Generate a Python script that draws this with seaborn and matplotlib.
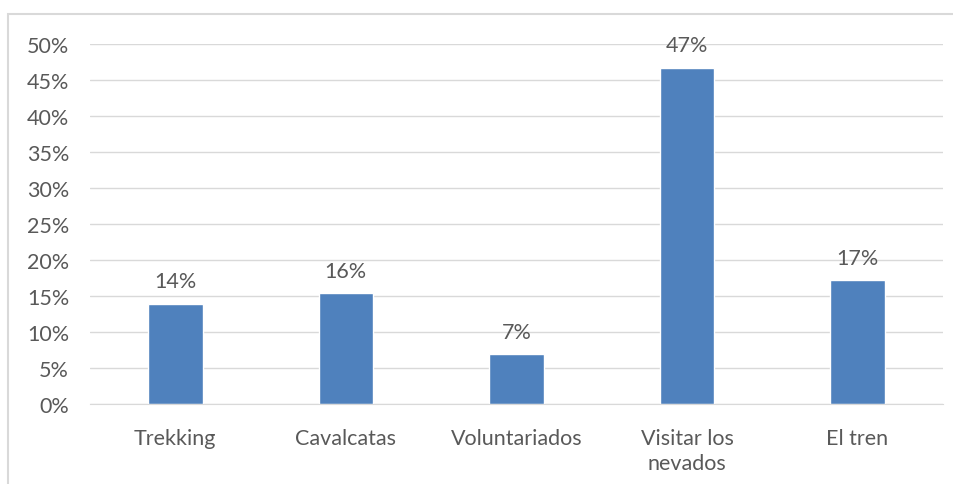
import matplotlib
matplotlib.use("Agg")
import matplotlib.pyplot as plt
import seaborn as sns
import pandas as pd
from matplotlib.patches import Rectangle
from matplotlib.ticker import PercentFormatter

# data
categories = ["Trekking", "Cavalcatas", "Voluntariados", "Visitar los\nnevados", "El tren"]
values = [0.139, 0.154, 0.069, 0.467, 0.172]
labels = ["14%", "16%", "7%", "47%", "17%"]

df = pd.DataFrame({"actividad": categories, "pct": values})

sns.set_style("white")
plt.rcParams["font.family"] = ["Lato", "DejaVu Sans"]
text_color = "#595959"
fs = 15.5

fig = plt.figure(figsize=(9.54, 4.85), dpi=100)
ax = fig.add_axes([0.0943, 0.165, 0.894, 0.742])

sns.barplot(data=df, x="actividad", y="pct", color="#4F81BD", width=0.32,
            saturation=1, ax=ax)

ax.set_ylim(0, 0.5)
ax.set_yticks([i * 0.05 for i in range(11)])
ax.yaxis.set_major_formatter(PercentFormatter(1.0, decimals=0))
ax.grid(axis="y", color="#D9D9D9", linewidth=1)
ax.set_axisbelow(True)
for s in ["top", "right", "left"]:
    ax.spines[s].set_visible(False)
ax.spines["bottom"].set_color("#D9D9D9")
ax.set_xlabel("")
ax.set_ylabel("")
ax.tick_params(axis="both", length=0, labelsize=fs, colors=text_color)
ax.tick_params(axis="x", pad=17)
ax.tick_params(axis="y", pad=15)
for t in ax.get_xticklabels():
    t.set_linespacing(1.35)

for p, lab in zip(ax.patches, labels):
    ax.annotate(lab, (p.get_x() + p.get_width() / 2, p.get_height()),
                xytext=(0, 9), textcoords="offset points",
                ha="center", va="bottom", fontsize=fs, color=text_color)

# chart frame
fig.patches.append(Rectangle((8 / 954, -0.05), 1.1, 1 - 15 / 485 + 0.05,
                             transform=fig.transFigure, fill=False,
                             edgecolor="#D9D9D9", linewidth=1.5))

fig.savefig("out.png", dpi=100)
